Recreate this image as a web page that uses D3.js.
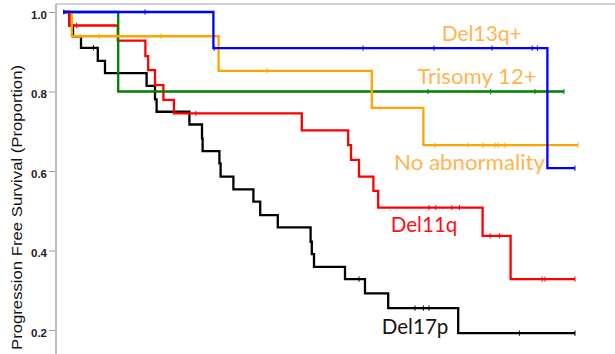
<!DOCTYPE html>
<html>
<head>
<meta charset="utf-8">
<script src="https://cdn.jsdelivr.net/npm/d3@7/dist/d3.min.js"></script>
<style>
  html, body { margin: 0; padding: 0; background: #fff; }
  svg { display: block; }
</style>
</head>
<body>
<svg id="chart" width="615" height="354"></svg>
<script>
// Kaplan-Meier step curves: event times (months), survival after each event,
// last follow-up time and censoring times for each cytogenetic group.
const del13qTimes  = [0, 37.6, 121.1];
const del13qSurv   = [1.0, 0.909, 0.607];
const del13qEnd    = 128;
const del13qCensor = [0.2, 20.5, 37.8, 75, 92.75, 107.25, 117.3, 118.6, 128];

const noAbnTimes   = [0, 2.2, 38.9, 77.2, 90.1];
const noAbnSurv    = [1.0, 0.939, 0.852, 0.759, 0.665];
const noAbnEnd     = 128.7;
const noAbnCensor  = [4.25, 9, 24.5, 51, 93, 101.25, 105, 108, 108.75, 110.5, 128.7];

const tri12Times   = [0, 13.8];
const tri12Surv    = [1.0, 0.80];
const tri12End     = 125.25;
const tri12Censor  = [91.25, 106.9, 118, 125.25];

const del11qTimes  = [0, 1.6, 13.7, 20.6, 21.3, 23, 25.1, 27.75, 59.7, 71.3, 72, 74, 77.6, 78.8, 104.9, 111.9];
const del11qSurv   = [1.0, 0.966, 0.928, 0.889, 0.854, 0.816, 0.779, 0.745, 0.702, 0.665, 0.628, 0.586, 0.550, 0.508, 0.437, 0.328];
const del11qEnd    = 128;
const del11qCensor = [3.4, 33.2, 91.5, 93.2, 97.2, 99.1, 106.75, 109.1, 119.8, 120.5, 128];

const del17pTimes  = [0, 1.6, 2.5, 4.5, 8.7, 10.5, 20.9, 23, 23.4, 31.6, 34.75, 34.9, 39.1, 39.4, 42.6, 47.6, 49.3, 53.7, 61.9, 62.2, 62.75, 70.5, 75.5, 81.3, 98.8];
const del17pSurv   = [1.0, 0.966, 0.939, 0.910, 0.877, 0.846, 0.814, 0.780, 0.749, 0.717, 0.682, 0.650, 0.619, 0.586, 0.554, 0.523, 0.489, 0.458, 0.422, 0.391, 0.359, 0.328, 0.292, 0.255, 0.192];
const del17pEnd    = 128;
const del17pCensor = [7.6, 74, 88, 90.1, 91.5, 114.1, 128];

const yTicks = [0.2, 0.4, 0.6, 0.8, 1.0];
const yTitle = "Progression Free Survival (Proportion)";

// Drawing order: later groups sit on top.
const groups = [
  { name: "Del17p",         times: del17pTimes, surv: del17pSurv, end: del17pEnd, censor: del17pCensor },
  { name: "Del11q",         times: del11qTimes, surv: del11qSurv, end: del11qEnd, censor: del11qCensor },
  { name: "Trisomy 12+",    times: tri12Times,  surv: tri12Surv,  end: tri12End,  censor: tri12Censor },
  { name: "No abnormality", times: noAbnTimes,  surv: noAbnSurv,  end: noAbnEnd,  censor: noAbnCensor },
  { name: "Del13q+",        times: del13qTimes, surv: del13qSurv, end: del13qEnd, censor: del13qCensor }
];

const style = {
  "Del17p":         { line: "#000000", label: "#151515", lx: 381.7, ly: 334,   lw: 66.7 },
  "Del11q":         { line: "#ff0000", label: "#ff1010", lx: 390.7, ly: 231.7, lw: 66.7 },
  "Trisomy 12+":    { line: "#008000", label: "#ffb44f", lx: 417.3, ly: 84,    lw: 119.4 },
  "No abnormality": { line: "#ffa500", label: "#ffb44f", lx: 394,   ly: 170,   lw: 151 },
  "Del13q+":        { line: "#0000ff", label: "#ffb44f", lx: 441.7, ly: 40.7,  lw: 80 }
};

const svg = d3.select("#chart");
const W = 615, H = 354;
const frameLeft = 56, frameTop = 4;

const x = d3.scaleLinear().domain([0, 138]).range([63, 615]);
const y = d3.scaleLinear().domain([0.2, 1.0]).range([330, 12]);

// frame: left axis line and top border
svg.append("line")
  .attr("x1", frameLeft).attr("x2", W).attr("y1", frameTop).attr("y2", frameTop)
  .attr("stroke", "#c4c4c4").attr("stroke-width", 1.6);
svg.append("line")
  .attr("x1", frameLeft).attr("x2", frameLeft).attr("y1", frameTop).attr("y2", H)
  .attr("stroke", "#bdbdbd").attr("stroke-width", 2);

// y axis ticks and labels
const yAxis = d3.axisLeft(y)
  .tickValues(yTicks)
  .tickFormat(d3.format(".1f"))
  .tickSize(6)
  .tickPadding(2);
const ga = svg.append("g").attr("transform", `translate(${frameLeft - 1},0)`).call(yAxis);
ga.select(".domain").remove();
ga.selectAll(".tick line").attr("stroke", "#9a9a9a").attr("stroke-width", 1);
ga.selectAll(".tick text")
  .attr("fill", "#222")
  .attr("dy", "0.55em")
  .style("font-family", "'Liberation Sans Narrow', 'Arial Narrow', 'Liberation Sans', sans-serif")
  .style("font-size", "11.5px")
  .style("font-weight", "bold");

// y axis title (rotated)
svg.append("text")
  .attr("transform", "translate(22,207.5) rotate(-90)")
  .attr("text-anchor", "middle")
  .attr("textLength", 285)
  .attr("lengthAdjust", "spacingAndGlyphs")
  .attr("fill", "#111")
  .style("font-family", "'Liberation Sans', Arial, sans-serif")
  .style("font-size", "14px")
  .text(yTitle);

const line = d3.line()
  .x(d => x(d[0]))
  .y(d => y(d[1]))
  .curve(d3.curveStepAfter);

function survAt(g, t) {
  let s = g.surv[0];
  for (let i = 0; i < g.times.length; i++) {
    if (g.times[i] <= t) s = g.surv[i];
  }
  return s;
}

const plot = svg.append("g");
groups.forEach(g => {
  const c = style[g.name].line;
  const pts = g.times.map((t, i) => [t, g.surv[i]]);
  pts.push([g.end, g.surv[g.surv.length - 1]]);
  const gg = plot.append("g");
  gg.append("path")
    .attr("d", line(pts))
    .attr("fill", "none")
    .attr("stroke", c)
    .attr("stroke-width", 2.3)
    .attr("stroke-linejoin", "miter");
  gg.selectAll("line.censor")
    .data(g.censor)
    .join("line")
    .attr("class", "censor")
    .attr("x1", d => x(d)).attr("x2", d => x(d))
    .attr("y1", d => y(survAt(g, d)) - 2.6)
    .attr("y2", d => y(survAt(g, d)) + 2.6)
    .attr("stroke", c)
    .attr("stroke-width", 1);
});

// group labels
groups.forEach(g => {
  const s = style[g.name];
  svg.append("text")
    .attr("x", s.lx)
    .attr("y", s.ly)
    .attr("textLength", s.lw)
    .attr("lengthAdjust", "spacingAndGlyphs")
    .attr("fill", s.label)
    .style("font-family", "Lato, 'Open Sans', sans-serif")
    .style("font-size", "21px")
    .text(g.name);
});
</script>
</body>
</html>
